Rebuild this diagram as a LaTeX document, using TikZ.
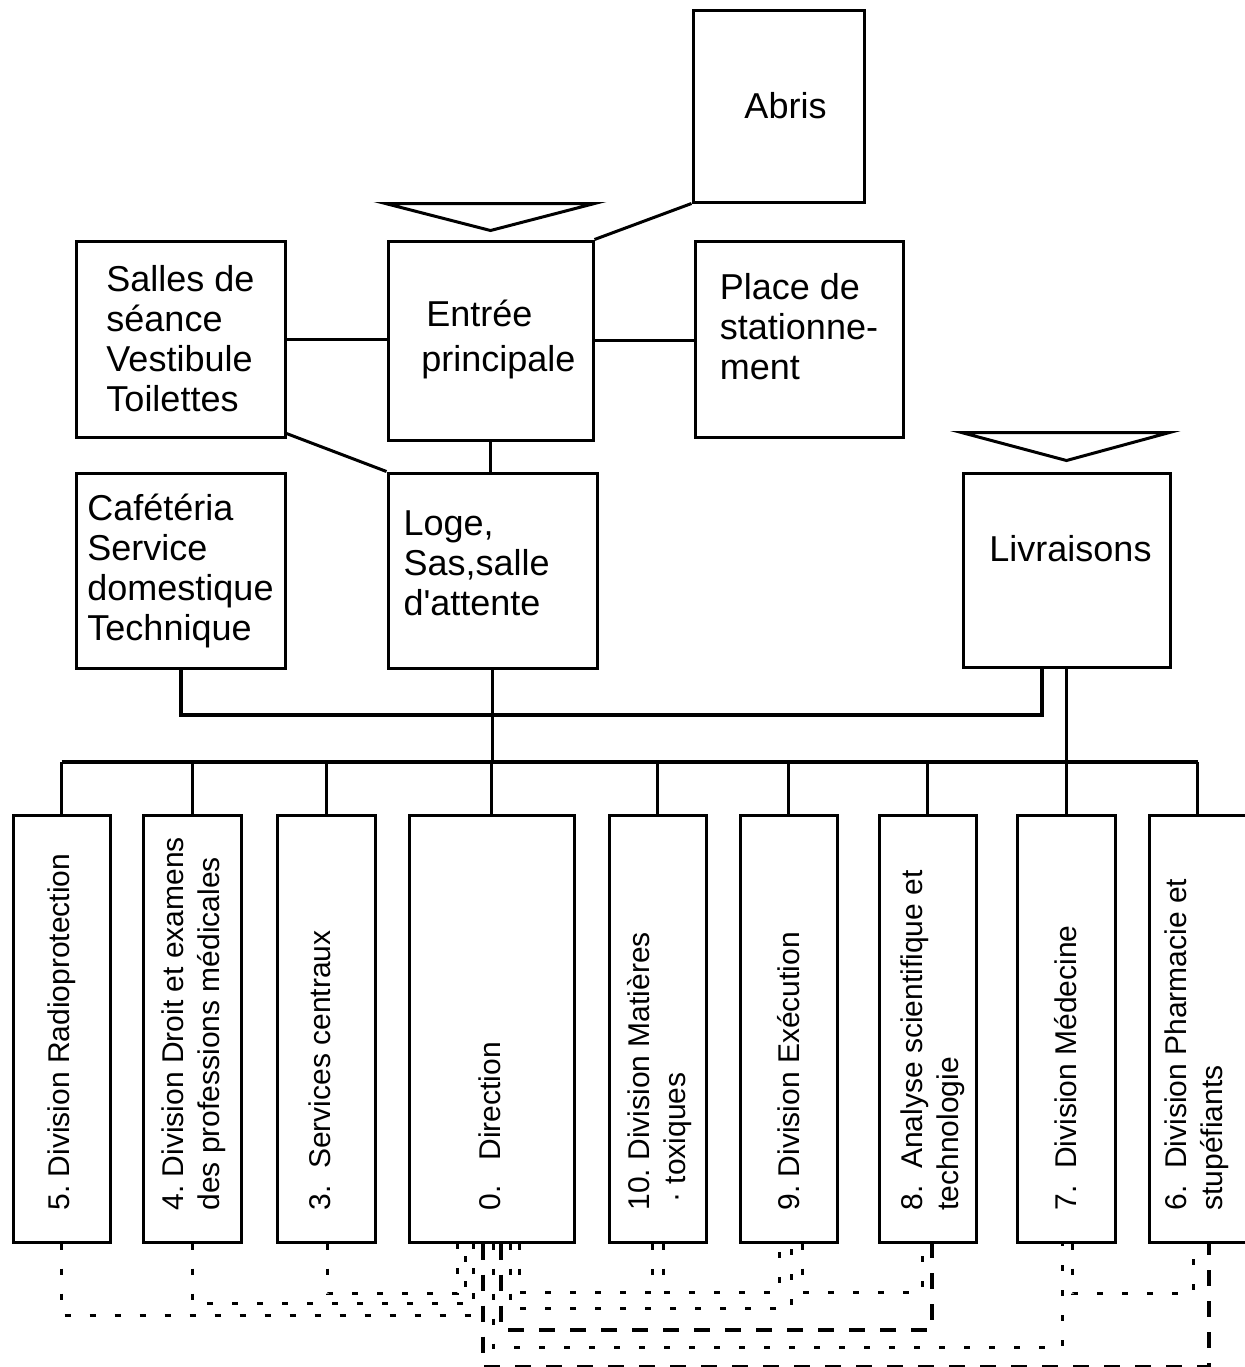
\documentclass[tikz,border=0pt]{standalone}
\usepackage{fontspec}
\setmainfont{Liberation Sans}
\usetikzlibrary{calc}
\frenchspacing

\tikzset{every picture/.style={line width=1.5pt}}
\tikzset{
	room/.style={draw, rectangle, minimum width=104.5pt, minimum height=98pt, inner sep=0pt, align=left, font=\fontsize{18}{20}\selectfont},
	division/.style={draw, rectangle, minimum height=213.5pt, minimum width=48.5pt, inner sep=0pt},
	divlabel/.style={rotate=90, anchor=west, align=left, inner sep=0pt, font=\fontsize{15}{18}\selectfont},
	trunk/.style={line width=2pt},
	dotlink/.style={line width=1.5pt, dash pattern=on 3pt off 9.5pt},
	dashlink/.style={line width=2pt, dash pattern=on 8pt off 7.5pt},
}

\begin{document}
\begin{tikzpicture}[x=0.5pt,y=0.5pt,yscale=-1,xscale=1]
	\useasboundingbox (0,0) rectangle (1245,1367);

	%Shape: Rectangle
	\node[room, minimum width=85.5pt, minimum height=96pt] (abris) at (778.5,106) {\hspace*{7pt}Abris};
	%Shape: Rectangle
	\node[room, minimum width=102.5pt, minimum height=99.5pt, font=\fontsize{18}{22.5}\selectfont] (entree) at (490.5,340.5) {\hspace*{10.5pt}Entrée\\\hspace*{8pt}principale\\[-17.5pt]};
	%Shape: Rectangle
	\node[room] (salles) at (180.5,339) {Salles de\\séance\\Vestibule\\Toilettes};
	%Shape: Rectangle
	\node[room, minimum width=104pt] (place) at (799,339) {Place de\\stationne-\\ment\\[-7pt]};
	%Shape: Rectangle
	\node[room, minimum height=97.5pt] (loge) at (492.5,570.5) {Loge,\\\makebox[89pt][l]{Sas,salle}\\d\textquotesingle attente\\[-13pt]};
	%Shape: Rectangle
	\node[room, minimum height=97.5pt] (cafe) at (180.5,570.5) {Cafétéria\\Service\\domestique\\Technique};
	%Shape: Rectangle
	\node[room, minimum width=103.5pt, minimum height=97pt] (livr) at (1066.5,570) {\hspace*{4pt}Livraisons\\[2pt]};

	%Shape: Triangle
	\draw ($(entree.north west)+(-1,-36)$) -- ($(entree.north east)+(0,-36)$) -- ($(entree.north)+(0,-9)$) -- cycle;
	%Shape: Triangle
	\draw ($(livr.north west)+(0,-39)$) -- ($(livr.north east)+(-2,-39)$) -- ($(livr.north)+(0,-11)$) -- cycle;

	%Straight Lines
	\draw (entree.north east) -- (abris.south west);
	\draw (salles.east) -- (salles.east -| entree.west);
	\draw (entree.east -| place.west) -- (entree.east);
	\draw ($(salles.south east)+(0,-5)$) -- (loge.north west);
	\draw (entree.south) -- (entree.south |- loge.north);
	\draw[trunk] (cafe.south) -- ++(0,45) -| ($(livr.south)+(-24.5,0)$);

	%Shape: Rectangle
	\foreach \nm/\cx/\w in {radio/61.5/48.5, droit/192/49, central/326/49, direction/491.5/82.5, matieres/657.5/48.5, execution/788.5/48.5, analyse/927.5/48.5, medecine/1066/49, pharma/1197.5/48.5}
		\node[division, minimum width=\w pt] (\nm) at (\cx,1028.5) {};

	%Straight Lines
	\coordinate (bus) at (0,762);
	\draw[trunk] (radio.north |- bus) -- (pharma.north |- bus);
	\draw (loge.south) -- (loge.south |- bus);
	\draw (livr.south) -- (livr.south |- bus);
	\foreach \nm in {radio, droit, central, direction, matieres, execution, analyse, medecine, pharma}
		\draw (\nm.north) -- (\nm.north |- bus);

	% Text Node
	\node[divlabel] (radiotext) at (62,1212) {5. Division Radioprotection};
	% Text Node
	\node[divlabel] (droittext) at (194,1212) {4. Division Droit et examens\\des professions médicales};
	% Text Node
	\node[divlabel] (centraltext) at (320,1212) {3.~~Services centraux};
	% Text Node
	\node[divlabel] (directiontext) at (490,1212) {0.~~~Direction};
	% Text Node
	\node[divlabel] (matierestext) at (660,1212) {10. Division Matières\\\hspace*{4pt}· toxiques};
	% Text Node
	\node[divlabel] (executiontext) at (789,1212) {9. Division Exécution};
	% Text Node
	\node[divlabel] (analysetext) at (933,1212) {8.~~Analyse scientifique et\\technologie};
	% Text Node
	\node[divlabel] (medecinetext) at (1066,1212) {7.~~Division Médecine};
	% Text Node
	\node[divlabel] (pharmatext) at (1197,1212) {6.~~Division Pharmacie et\\stupéfiants};

	%Dashed Lines
	\draw[dotlink] (radio.south) -- ++(0,72) -| ($(direction.south)+(-18.5,0)$);
	\draw[dotlink] (droit.south) -- ++(0,60) -| ($(direction.south)+(-26.5,0)$);
	\draw[dotlink] ($(central.south)+(1,0)$) -- ++(0,50) -| ($(direction.south)+(-34.5,0)$);
	\draw[dotlink] ($(direction.south)+(27.5,0)$) -- ++(0,49) -| ($(matieres.south)+(-5.5,0)$);
	\draw[dotlink] ($(matieres.south)+(5.5,0)$) -- ++(0,49) -| ($(execution.south)+(-9.5,0)$);
	\draw[dotlink] ($(execution.south)+(13.5,0)$) -- ++(0,49) -| ($(analyse.south)+(-5.5,0)$);
	\draw[dotlink] ($(direction.south)+(18.5,0)$) -- ++(0,65) -| ($(execution.south)+(2.5,0)$);
	\draw[dashlink] ($(direction.south)+(9.5,0)$) -- ++(0,86) -| ($(analyse.south)+(4.5,0)$);
	\draw[dotlink] ($(direction.south)+(1.5,0)$) -- ++(0,104) -| ($(medecine.south)+(-4,0)$);
	\draw[dashlink] ($(direction.south)+(-8.5,0)$) -- ++(0,123) -| ($(pharma.south)+(11.5,0)$);
	\draw[dotlink] ($(medecine.south)+(6,0)$) -- ++(0,50) -| ($(pharma.south)+(-4.5,0)$);

\end{tikzpicture}
\end{document}
